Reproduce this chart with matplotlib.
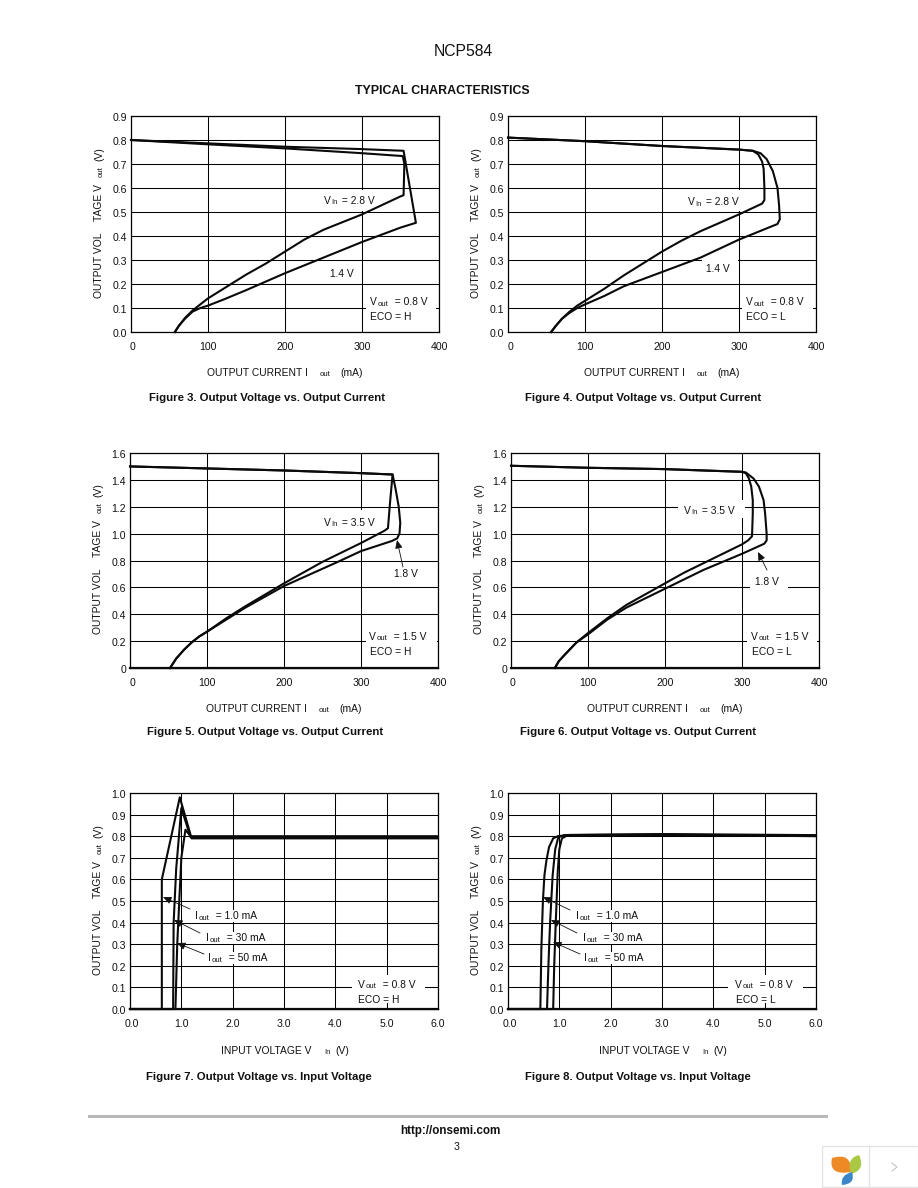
import matplotlib
matplotlib.use('Agg')
import matplotlib.pyplot as plt
from matplotlib.patches import Rectangle, PathPatch
from matplotlib.path import Path
from matplotlib.transforms import Affine2D

plt.rcParams['font.family'] = ['Liberation Sans', 'DejaVu Sans']

# curves (x, y)
fig3_x_a = [0, 100, 200, 300, 353, 355, 354, 350, 300, 250, 225, 200, 175, 150, 125, 100, 90, 80, 70, 62, 57]
fig3_y_a = [0.80, 0.782, 0.765, 0.745, 0.733, 0.70, 0.57, 0.565, 0.49, 0.426, 0.385, 0.335, 0.285, 0.24, 0.19, 0.14, 0.115, 0.09, 0.058, 0.025, 0.0]
fig3_x_b = [0, 100, 200, 300, 354, 370, 350, 300, 250, 200, 150, 120, 100, 90, 80, 70, 62, 57]
fig3_y_b = [0.80, 0.786, 0.772, 0.762, 0.755, 0.455, 0.435, 0.375, 0.31, 0.245, 0.175, 0.135, 0.11, 0.10, 0.085, 0.055, 0.025, 0.0]

fig4_x_a = [0, 100, 200, 300, 318, 325, 330, 332, 333, 333, 330, 300, 250, 225, 200, 175, 150, 125, 100, 90, 80, 70, 62, 56]
fig4_y_a = [0.81, 0.795, 0.775, 0.76, 0.755, 0.74, 0.71, 0.68, 0.60, 0.55, 0.535, 0.49, 0.42, 0.38, 0.335, 0.285, 0.235, 0.18, 0.13, 0.11, 0.085, 0.055, 0.025, 0.0]
fig4_x_b = [0, 100, 200, 300, 318, 328, 336, 344, 350, 352, 353, 350, 300, 250, 200, 175, 150, 125, 100, 90, 80, 70, 62, 56]
fig4_y_b = [0.81, 0.795, 0.775, 0.76, 0.755, 0.745, 0.72, 0.67, 0.60, 0.53, 0.47, 0.45, 0.385, 0.31, 0.25, 0.22, 0.19, 0.15, 0.115, 0.10, 0.08, 0.055, 0.025, 0.0]

fig5_x_a = [0, 100, 200, 300, 341, 338, 335, 330, 300, 250, 225, 200, 175, 150, 125, 100, 90, 80, 70, 60, 52]
fig5_y_a = [1.50, 1.485, 1.47, 1.45, 1.44, 1.25, 1.04, 1.02, 0.93, 0.79, 0.71, 0.63, 0.545, 0.46, 0.37, 0.27, 0.235, 0.19, 0.135, 0.07, 0.0]
fig5_x_b = [0, 100, 200, 300, 341, 345, 349, 351, 350, 347, 340, 300, 270, 235, 200, 175, 150, 125, 100, 90, 80, 70, 60, 52]
fig5_y_b = [1.50, 1.485, 1.47, 1.45, 1.44, 1.33, 1.20, 1.08, 1.00, 0.965, 0.945, 0.87, 0.79, 0.70, 0.61, 0.53, 0.45, 0.36, 0.27, 0.235, 0.19, 0.135, 0.07, 0.0]

fig6_x_a = [0, 100, 200, 300, 305, 309, 312, 314, 314, 313, 308, 300, 250, 225, 200, 175, 150, 125, 100, 85, 70, 62, 57]
fig6_y_a = [1.505, 1.49, 1.48, 1.46, 1.45, 1.41, 1.35, 1.25, 1.15, 0.98, 0.95, 0.92, 0.78, 0.71, 0.63, 0.55, 0.47, 0.37, 0.26, 0.19, 0.10, 0.05, 0.0]
fig6_x_b = [0, 100, 200, 300, 305, 315, 322, 328, 330, 332, 332, 329, 300, 250, 200, 175, 150, 125, 100, 85, 70, 62, 57]
fig6_y_b = [1.505, 1.49, 1.48, 1.46, 1.455, 1.41, 1.35, 1.25, 1.15, 1.00, 0.95, 0.925, 0.85, 0.73, 0.59, 0.52, 0.45, 0.36, 0.25, 0.19, 0.10, 0.05, 0.0]

fig7_x_a = [0, 0.62, 0.62, 0.97, 1.2, 6]
fig7_y_a = [0, 0, 0.60, 0.98, 0.79, 0.79]
fig7_x_b = [0, 0.84, 0.85, 0.90, 1.0, 1.18, 6]
fig7_y_b = [0, 0, 0.40, 0.65, 0.93, 0.795, 0.795]
fig7_x_c = [0, 0.885, 0.92, 1.0, 1.08, 1.18, 6]
fig7_y_c = [0, 0, 0.30, 0.70, 0.83, 0.80, 0.80]

fig8_x_a = [0, 0.63, 0.65, 0.68, 0.71, 0.75, 0.80, 0.88, 0.97, 1.2, 3, 6]
fig8_y_a = [0, 0, 0.28, 0.50, 0.62, 0.69, 0.75, 0.79, 0.80, 0.806, 0.81, 0.805]
fig8_x_b = [0, 0.76, 0.79, 0.82, 0.87, 0.92, 0.98, 1.1, 3, 6]
fig8_y_b = [0, 0, 0.22, 0.40, 0.62, 0.74, 0.795, 0.805, 0.808, 0.80]
fig8_x_c = [0, 0.88, 0.90, 0.93, 0.97, 1.0, 1.05, 1.15, 3, 6]
fig8_y_c = [0, 0, 0.20, 0.40, 0.64, 0.74, 0.79, 0.803, 0.805, 0.803]

ticks_current = [0, 100, 200, 300, 400]
ticks_input = [0, 1, 2, 3, 4, 5, 6]
labels_input = ['0.0', '1.0', '2.0', '3.0', '4.0', '5.0', '6.0']
ticks_low = [0, 0.1, 0.2, 0.3, 0.4, 0.5, 0.6, 0.7, 0.8, 0.9]
labels_low = ['0.0', '0.1', '0.2', '0.3', '0.4', '0.5', '0.6', '0.7', '0.8', '0.9']
ticks_high = [0, 0.2, 0.4, 0.6, 0.8, 1.0, 1.2, 1.4, 1.6]
labels_high = ['0', '0.2', '0.4', '0.6', '0.8', '1.0', '1.2', '1.4', '1.6']
ticks_one = [0, 0.1, 0.2, 0.3, 0.4, 0.5, 0.6, 0.7, 0.8, 0.9, 1.0]
labels_one = ['0.0', '0.1', '0.2', '0.3', '0.4', '0.5', '0.6', '0.7', '0.8', '0.9', '1.0']

W, H = 918, 1188
fig = plt.figure(figsize=(W / 100, H / 100), dpi=100, facecolor='white')
# page pixels, y going down
page = Affine2D().scale(1, -1).translate(0, H)
rend = fig.canvas.get_renderer()
FS = 7.4
SMALL = 5.6


def txt(x, y, s, size=FS, weight='normal', ha='left', rot=0, color='#111111'):
    return fig.text(x, y, s, transform=page, fontsize=size, fontweight=weight, ha=ha, va='center',
                    rotation=rot, rotation_mode='anchor', color=color, zorder=10)


def chain(x, y, pieces):
    # pieces: (text, gap before), small "out"/"In" sit a bit lower
    for s, gap, small in pieces:
        x += gap
        t = txt(x, y + (2 if small else 0), s, size=SMALL if small else FS)
        x = t.get_window_extent(rend).x1


def white(ax, x0, y0, x1, y1):
    # sits above the grid, under the curves
    ax.add_patch(Rectangle((x0, y1), x1 - x0, y0 - y1, transform=page, fc='white', ec='none', zorder=5, clip_on=False))


def arrow(head, tail):
    ann = fig.add_artist(matplotlib.text.Annotation('', xy=head, xytext=tail, xycoords=page, textcoords=page,
                         arrowprops=dict(arrowstyle='-|>,head_length=0.5,head_width=0.22', lw=0.6, color='#111111',
                                         shrinkA=0, shrinkB=0)))
    ann.set_zorder(11)


def panel(box, xlim, ylim, xt, xl, yt, yl, curves, lab_x, lab_y, cap, kind, base=False):
    left, top, right, bottom = box
    ax = fig.add_axes([left / W, 1 - bottom / H, (right - left) / W, (bottom - top) / H])
    ax.set_xlim(xlim)
    ax.set_ylim(ylim)
    ax.set_xticks(xt)
    ax.set_yticks(yt)
    ax.set_xticklabels([])
    ax.set_yticklabels([])
    ax.tick_params(length=0)
    ax.grid(True, color='black', lw=0.75)
    ax.set_axisbelow(True)
    for s in ax.spines.values():
        s.set_linewidth(0.9)
    for cx, cy in curves:
        ax.plot(cx, cy, color='#0a0a0a', lw=1.5, solid_joinstyle='round', clip_on=False, zorder=7)
    if base:
        ax.plot(xlim, [0, 0], color='#0a0a0a', lw=1.6, clip_on=False, zorder=7)
    ax.set_zorder(1)

    # tick labels
    for v, s in zip(xt, xl):
        px = left + (v - xlim[0]) / (xlim[1] - xlim[0]) * (right - left)
        if v == xt[0]:
            px += 2
        txt(px, bottom + 15, s, size=7.6, ha='center')
    for v, s in zip(yt, yl):
        py = bottom - (v - ylim[0]) / (ylim[1] - ylim[0]) * (bottom - top)
        txt(left - 4, py + 2, s, size=7.6, ha='right')

    # axis titles, broken up as in the scan
    if kind == 'current':
        chain(left + 76, bottom + 41, [('OUTPUT CURRENT I', 0, False), ('out', 12, True), ('(mA)', 10, False)])
    else:
        chain(left + 91, bottom + 42, [('INPUT VOLTAGE V', 0, False), ('In', 13, True), ('(V)', 5, False)])
    yb = bottom - 34
    xt_y = left - 32
    txt(xt_y, yb, 'OUTPUT VOL', rot=90)
    txt(xt_y, yb - 77, 'TAGE V', rot=90)
    txt(xt_y + 2, yb - 121, 'out', size=SMALL, rot=90)
    txt(xt_y, yb - 137, '(V)', rot=90)
    txt(lab_x, lab_y, cap, size=8.2, weight='bold', ha='center')
    return ax


txt(463, 51, 'NCP584', size=11.3, ha='center')
txt(442, 91, 'TYPICAL CHARACTERISTICS', size=8.9, weight='bold', ha='center')

ax3 = panel((131, 116, 439, 332), (0, 400), (0, 0.9), ticks_current, ticks_current, ticks_low, labels_low,
            [(fig3_x_a, fig3_y_a), (fig3_x_b, fig3_y_b)], 267, 398, 'Figure 3. Output Voltage vs. Output Current', 'current')
ax4 = panel((508, 116, 816, 332), (0, 400), (0, 0.9), ticks_current, ticks_current, ticks_low, labels_low,
            [(fig4_x_a, fig4_y_a), (fig4_x_b, fig4_y_b)], 643, 398, 'Figure 4. Output Voltage vs. Output Current', 'current')
ax5 = panel((130, 453, 438, 668), (0, 400), (0, 1.6), ticks_current, ticks_current, ticks_high, labels_high,
            [(fig5_x_a, fig5_y_a), (fig5_x_b, fig5_y_b)], 265, 732, 'Figure 5. Output Voltage vs. Output Current', 'current', base=True)
ax6 = panel((511, 453, 819, 668), (0, 400), (0, 1.6), ticks_current, ticks_current, ticks_high, labels_high,
            [(fig6_x_a, fig6_y_a), (fig6_x_b, fig6_y_b)], 638, 732, 'Figure 6. Output Voltage vs. Output Current', 'current', base=True)
ax7 = panel((130, 793, 438, 1009), (0, 6), (0, 1.0), ticks_input, labels_input, ticks_one, labels_one,
            [(fig7_x_a, fig7_y_a), (fig7_x_b, fig7_y_b), (fig7_x_c, fig7_y_c)], 259, 1077, 'Figure 7. Output Voltage vs. Input Voltage', 'input', base=True)
ax8 = panel((508, 793, 816, 1009), (0, 6), (0, 1.0), ticks_input, labels_input, ticks_one, labels_one,
            [(fig8_x_a, fig8_y_a), (fig8_x_b, fig8_y_b), (fig8_x_c, fig8_y_c)], 638, 1077, 'Figure 8. Output Voltage vs. Input Voltage', 'input', base=True)


def vin(x, y, val):
    chain(x, y, [('V', 0, False), ('In', 0.5, True), (' = ' + val, 1, False)])


def vout(x, y, val, eco):
    chain(x, y, [('V', 0, False), ('out', 0.5, True), ('  = ' + val, 1, False)])
    txt(x + 0.5, y + 15, eco)


def iout(x, y, val):
    chain(x, y, [('I', 0, False), ('out', 0.5, True), ('  = ' + val, 1, False)])


# white boxes that cut the grid behind the labels
for a, b in [(ax3, (320, 190, 378, 211)), (ax3, (366, 297, 436, 313)),
             (ax4, (683, 190, 743, 211)), (ax4, (702, 255, 738, 273)), (ax4, (742, 297, 813, 313)),
             (ax5, (320, 510, 378, 532)), (ax5, (366, 632, 437, 648)),
             (ax6, (678, 500, 745, 518)), (ax6, (750, 573, 788, 590)), (ax6, (747, 632, 817, 648)),
             (ax7, (352, 975, 425, 1003)), (ax7, (192, 910, 258, 922)), (ax7, (203, 932, 267, 944)), (ax7, (205, 952, 268, 964)),
             (ax8, (728, 975, 803, 1003)), (ax8, (573, 910, 640, 922)), (ax8, (580, 932, 645, 944)), (ax8, (581, 952, 645, 964))]:
    white(a, *b)

vin(324, 201, '2.8 V')
txt(330, 274, '1.4 V')
vout(370, 302, '0.8 V', 'ECO = H')

vin(688, 202, '2.8 V')
txt(706, 269, '1.4 V')
vout(746, 302, '0.8 V', 'ECO = L')

vin(324, 523, '3.5 V')
txt(394, 574, '1.8 V')
vout(369, 637, '1.5 V', 'ECO = H')
arrow((397, 540), (403, 567))

vin(684, 511, '3.5 V')
txt(755, 582, '1.8 V')
vout(751, 637, '1.5 V', 'ECO = L')
arrow((758, 552), (767, 570))

iout(195, 916, '1.0 mA')
iout(206, 938, '30 mA')
iout(208, 958, '50 mA')
vout(358, 985, '0.8 V', 'ECO = H')
arrow((163, 897), (190, 909))
arrow((174, 920), (200, 933))
arrow((177, 943), (204, 954))

iout(576, 916, '1.0 mA')
iout(583, 938, '30 mA')
iout(584, 958, '50 mA')
vout(735, 985, '0.8 V', 'ECO = L')
arrow((543, 897), (570, 910))
arrow((551, 920), (577, 933))
arrow((553, 942), (580, 954))

# footer
fig.add_artist(Rectangle((88, 1115), 740, 3, transform=page, fc='#b8b8b8', ec='none'))
txt(450, 1131, 'http://onsemi.com', size=8.4, weight='bold', ha='center')
txt(457, 1147, '3', size=7.6, ha='center')

# viewer badge bottom right
fig.add_artist(Rectangle((822, 1146), 96, 41, transform=page, fc='white', ec='#e2e2e2', lw=0.9))
fig.add_artist(plt.Line2D([869, 869], [1146, 1187], transform=page, color='#e2e2e2', lw=0.9))
fig.add_artist(plt.Line2D([892, 897, 892], [1163, 1167, 1171], transform=page, color='#bdbdbd', lw=0.7))


def petal(p0, c1, p1, c2, color):
    verts = [p0, c1, p1, c2, p0, p0]
    codes = [Path.MOVETO, Path.CURVE3, Path.CURVE3, Path.CURVE3, Path.CURVE3, Path.CLOSEPOLY]
    fig.add_artist(PathPatch(Path(verts, codes), transform=page, fc=color, ec='none'))


petal((832, 1158), (852, 1152), (851, 1172), (828, 1176), '#ee8a25')
petal((859, 1155), (866, 1170), (851, 1174), (846, 1158), '#a9c944')
petal((852, 1172), (856, 1184), (842, 1185), (840, 1175), '#3b86c8')

fig.savefig('out.png', dpi=100)
